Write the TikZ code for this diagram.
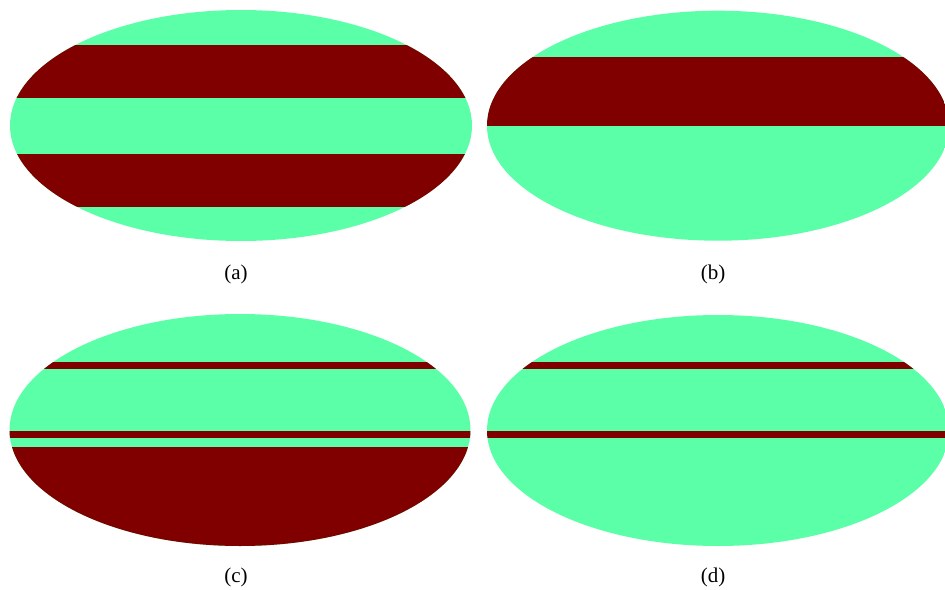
\documentclass[tikz,border=0pt]{standalone}
\usepackage{fontspec}
\setmainfont{Liberation Serif}
\definecolor{mapgreen}{RGB}{90,255,168}
\definecolor{mapred}{RGB}{128,0,0}

\begin{document}
\begin{tikzpicture}[x=1pt, y=-1pt,
  band/.style={fill=mapred},
  sky/.style={fill=mapgreen},
  sublabel/.style={font=\fontsize{21}{24}\selectfont, inner sep=0pt}
]
\useasboundingbox (0,0) rectangle (945,589);

% (a)
\begin{scope}
\clip (241,125.5) ellipse [x radius=231, y radius=115.5];
\fill[sky] (0,0) rectangle (480,260);
\fill[band] (0,45) rectangle (480,97.7);
\fill[band] (0,154) rectangle (480,206.7);
\end{scope}
\node[sublabel] (la) at (236,274) {(a)};

% (b)
\begin{scope}
\clip (718,125.7) ellipse [x radius=231, y radius=115];
\fill[sky] (480,0) rectangle (960,260);
\fill[band] (480,57.3) rectangle (960,125.7);
\end{scope}
\node[sublabel] (lb) at (713,274) {(b)};

% (c)
\begin{scope}
\clip (240,430) ellipse [x radius=230.5, y radius=116];
\fill[sky] (0,300) rectangle (480,560);
\fill[band] (0,361.7) rectangle (480,369);
\fill[band] (0,430.7) rectangle (480,437.7);
\fill[band] (0,446.7) rectangle (480,560);
\end{scope}
\node[sublabel] (lc) at (236,577) {(c)};

% (d)
\begin{scope}
\clip (718,430.5) ellipse [x radius=231, y radius=115.5];
\fill[sky] (480,300) rectangle (960,560);
\fill[band] (480,361.7) rectangle (960,369);
\fill[band] (480,430.7) rectangle (960,437.7);
\end{scope}
\node[sublabel] (ld) at (713,577) {(d)};
\end{tikzpicture}
\end{document}
